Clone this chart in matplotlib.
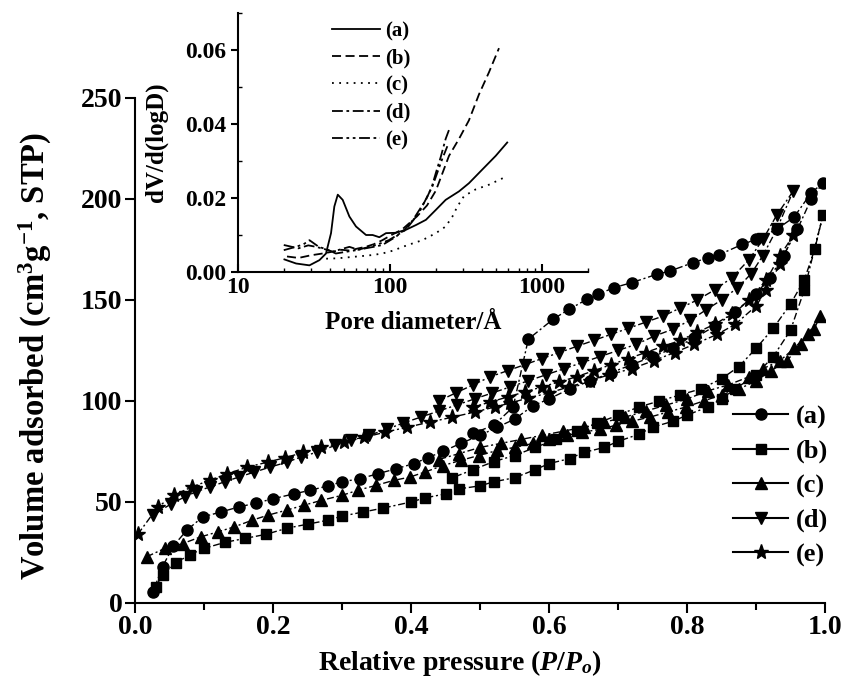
import matplotlib
matplotlib.use("Agg")
import matplotlib.pyplot as plt
from matplotlib.lines import Line2D
from matplotlib.ticker import MultipleLocator, LogLocator, NullFormatter, FixedLocator, FormatStrFormatter

plt.rcParams['font.family'] = 'Liberation Serif'
plt.rcParams['font.weight'] = 'bold'
plt.rcParams['mathtext.fontset'] = 'custom'
plt.rcParams['mathtext.rm'] = 'Liberation Serif:bold'
plt.rcParams['mathtext.it'] = 'Liberation Serif:italic:bold'
plt.rcParams['mathtext.bf'] = 'Liberation Serif:bold'

# Isotherms: adsorption branch followed by desorption branch
p_a = [0.026, 0.04, 0.055, 0.075, 0.098, 0.124, 0.15, 0.176, 0.2, 0.23, 0.254, 0.28, 0.3, 0.326, 0.352,
       0.378, 0.404, 0.425, 0.446, 0.472, 0.5, 0.525, 0.55, 0.577, 0.6, 0.63, 0.66, 0.69, 0.72, 0.75,
       0.78, 0.81, 0.84, 0.87, 0.9, 0.92, 0.94, 0.96, 0.98, 0.997,
       0.98, 0.955, 0.93, 0.9, 0.88, 0.847, 0.831, 0.808, 0.775, 0.756, 0.72, 0.694, 0.671, 0.655,
       0.629, 0.606, 0.57, 0.548, 0.52, 0.49]
v_a = [5.6, 18, 28, 36, 42.6, 45, 47.5, 49.5, 51.6, 54, 55.8, 58, 60, 61.5, 64,
       66.4, 69, 72, 75, 79, 83, 87, 91, 97.7, 101, 106, 110, 114, 118, 122,
       126, 131, 137, 144, 153, 161, 172, 185, 200, 208,
       203, 191, 185, 180, 177.5, 172.5, 171, 168.4, 164.3, 162.7, 158.6, 156.1, 152.8, 150.3,
       145.4, 140.5, 130.6, 97, 88, 84]

p_b = [0.03, 0.04, 0.06, 0.08, 0.1, 0.13, 0.16, 0.19, 0.22, 0.25, 0.28, 0.3, 0.33, 0.36, 0.4, 0.42,
       0.45, 0.47, 0.5, 0.52, 0.55, 0.58, 0.6, 0.63, 0.65, 0.68, 0.7, 0.73, 0.75, 0.78, 0.8, 0.83,
       0.85, 0.87, 0.9, 0.925, 0.95, 0.97, 0.997,
       0.985, 0.97, 0.95, 0.925, 0.9, 0.875, 0.85, 0.82, 0.79, 0.76, 0.73, 0.7, 0.67, 0.64, 0.61,
       0.58, 0.55, 0.52, 0.49, 0.46]
v_b = [8, 14, 20, 24, 27, 30, 32, 34, 37, 39, 41, 43, 45, 47, 50, 52,
       54, 56.5, 58, 60, 62, 66, 69, 71.5, 74.5, 77, 80, 83.5, 87, 90, 93, 97,
       101, 106, 113, 122, 135, 155, 192,
       175, 160, 148, 136, 126, 117, 111, 106, 103, 100, 97, 93, 89, 85, 81,
       77, 73, 70, 66, 62]

p_c = [0.017, 0.043, 0.069, 0.095, 0.12, 0.144, 0.17, 0.192, 0.22, 0.245, 0.27, 0.3, 0.323, 0.349,
       0.375, 0.398, 0.42, 0.446, 0.472, 0.498, 0.525, 0.55, 0.577, 0.6, 0.626, 0.648, 0.674, 0.697,
       0.72, 0.746, 0.772, 0.798, 0.824, 0.85, 0.876, 0.9, 0.922, 0.945, 0.965, 0.984, 0.993,
       0.975, 0.955, 0.935, 0.91, 0.89, 0.86, 0.83, 0.8, 0.77, 0.74, 0.71, 0.68, 0.65, 0.62, 0.59,
       0.56, 0.53, 0.5, 0.47, 0.44]
v_c = [22.9, 27, 29.4, 32.7, 35.2, 37.7, 41, 43.4, 46, 48.4, 50.8, 53.3, 55.8, 58.2,
       60.7, 62.3, 64.8, 68, 70.6, 73, 75.5, 77, 79, 81, 83, 84.5, 86, 88,
       90, 92, 94.5, 97, 100, 103, 106, 110, 115, 120, 128, 135.5, 142,
       133, 126, 120, 116, 112, 108, 105, 101, 98, 95, 92, 89.5, 87, 85, 83,
       81, 79, 77, 74, 71]

p_d = [0.026, 0.052, 0.072, 0.088, 0.108, 0.13, 0.15, 0.173, 0.196, 0.22, 0.24, 0.264, 0.29, 0.313,
       0.339, 0.365, 0.388, 0.414, 0.44, 0.466, 0.492, 0.518, 0.544, 0.57, 0.596, 0.622, 0.648, 0.674,
       0.7, 0.726, 0.752, 0.779, 0.805, 0.827, 0.85, 0.873, 0.893, 0.91, 0.93, 0.954,
       0.93, 0.91, 0.89, 0.865, 0.84, 0.815, 0.79, 0.765, 0.74, 0.715, 0.69, 0.665, 0.64, 0.615,
       0.59, 0.565, 0.54, 0.515, 0.49, 0.465, 0.44]
v_d = [43.4, 49, 52.5, 55, 57.4, 60, 62.3, 64.8, 67.3, 69.7, 72.2, 74.7, 78, 80.5,
       83, 86, 89, 92, 95, 98, 101, 104, 107, 110, 113, 116, 119, 122,
       125, 128, 132, 135.5, 140, 145, 150, 156, 163, 172, 185, 204,
       192, 180, 170, 161, 155, 150, 146, 142, 139, 136, 133, 130, 127, 124,
       121, 118, 115, 112, 108, 104, 100]

p_e = [0.004, 0.033, 0.056, 0.082, 0.108, 0.134, 0.163, 0.192, 0.218, 0.244, 0.27, 0.303, 0.332,
       0.362, 0.394, 0.427, 0.46, 0.492, 0.521, 0.544, 0.57, 0.6, 0.629, 0.66, 0.687, 0.72, 0.752,
       0.782, 0.81, 0.844, 0.87, 0.9, 0.915, 0.935, 0.954,
       0.935, 0.915, 0.89, 0.865, 0.84, 0.815, 0.79, 0.765, 0.74, 0.715, 0.69, 0.665, 0.64, 0.615,
       0.59, 0.565, 0.54, 0.515, 0.49]
v_e = [34, 47.5, 53.3, 57.4, 60.7, 64, 67.3, 69.7, 72, 74.5, 77, 79.5, 82,
       84.5, 87, 89.5, 92, 94.5, 97, 99, 101.5, 104, 107, 110, 113, 116, 120,
       124, 128, 133, 138, 147, 155, 168, 182,
       172, 160, 150, 143, 138, 134, 130, 127, 124, 121, 118, 115, 112, 109.5,
       107, 104.5, 102, 99.5, 97]

# Pore size distributions (inset)
d_a = [20.2, 24.1, 29.5, 34.3, 37.9, 40.9, 43, 45.3, 48.8, 54, 59.7, 69.5, 76.8, 85, 94, 109, 127,
       148, 172, 200, 232, 284, 330, 404, 495, 589]
y_a = [0.0034, 0.0023, 0.0018, 0.0032, 0.005, 0.0105, 0.0177, 0.0209, 0.0195, 0.015, 0.0123, 0.01,
       0.01, 0.0094, 0.0105, 0.0106, 0.0114, 0.0127, 0.0141, 0.0168, 0.0195, 0.0218, 0.024, 0.0277,
       0.0314, 0.035]
d_b = [21, 25, 30, 36, 42, 48, 54, 62, 69, 78, 89, 100, 120, 150, 175, 200, 244, 284, 330, 384, 447, 520]
y_b = [0.0042, 0.0038, 0.0045, 0.005, 0.0055, 0.006, 0.0058, 0.0064, 0.0068, 0.0075, 0.0086, 0.0098,
       0.0115, 0.015, 0.018, 0.022, 0.0314, 0.036, 0.041, 0.048, 0.054, 0.0605]
d_c = [38, 45, 54, 65, 77, 89, 105, 121, 140, 163, 200, 232, 257, 277, 306, 364, 447, 560]
y_c = [0.0036, 0.0037, 0.004, 0.0043, 0.0046, 0.005, 0.0058, 0.0068, 0.0077, 0.0086, 0.0105, 0.0123,
       0.015, 0.0177, 0.0205, 0.0223, 0.0236, 0.0255]
d_d = [20, 25, 29, 32.6, 37, 42, 48, 54, 62, 69, 78, 89, 109, 125, 141, 157, 172, 188, 200, 215, 232, 245]
y_d = [0.0073, 0.0064, 0.0072, 0.0068, 0.0062, 0.0055, 0.0062, 0.0068, 0.006, 0.0064, 0.0068, 0.0073,
       0.0095, 0.0115, 0.014, 0.017, 0.0195, 0.023, 0.0268, 0.031, 0.036, 0.0386]
d_e = [20, 24, 27, 29.5, 34, 39, 44, 52, 60, 70, 81, 98, 127, 155, 190, 220, 238]
y_e = [0.0059, 0.0068, 0.0075, 0.0086, 0.0068, 0.006, 0.005, 0.0055, 0.0059, 0.0066, 0.0073, 0.0086,
       0.0114, 0.016, 0.0232, 0.0305, 0.034]

labels = ['(a)', '(b)', '(c)', '(d)', '(e)']
markers = ['o', 's', '^', 'v', '*']
marker_sizes = [8, 7.5, 9, 9, 11]

fig = plt.figure(figsize=(8.46, 6.93), dpi=100)

# main isotherm plot
ax = fig.add_axes([0.1596, 0.1299, 0.8156, 0.7287])
iso_p = [p_a, p_b, p_c, p_d, p_e]
iso_v = [v_a, v_b, v_c, v_d, v_e]
for i in range(5):
    ax.plot(iso_p[i], iso_v[i], color='k', lw=1, ls=(0, (5, 2, 1.5, 2)),
            marker=markers[i], ms=marker_sizes[i], mfc='k', mec='k')

ax.set_xlim(0, 1.0)
ax.set_ylim(0, 250)
ax.xaxis.set_major_locator(MultipleLocator(0.2))
ax.xaxis.set_minor_locator(MultipleLocator(0.1))
ax.xaxis.set_major_formatter(FormatStrFormatter('%.1f'))
ax.yaxis.set_major_locator(MultipleLocator(50))
ax.spines['top'].set_visible(False)
ax.spines['right'].set_visible(False)
ax.spines['left'].set_linewidth(1.5)
ax.spines['bottom'].set_linewidth(1.5)
ax.tick_params(which='major', direction='out', length=7, width=1.5, labelsize=20, pad=2)
ax.tick_params(which='minor', direction='out', length=5, width=1.5)
ax.set_xlabel('Relative pressure ($P/P_{o}$)', fontsize=20, fontweight='bold')
ax.set_ylabel('Volume adsorbed (cm$^{3}$g$^{-1}$, STP)', fontsize=23.5, fontweight='bold')
ax.xaxis.set_label_coords(0.471, -0.09)
ax.yaxis.set_label_coords(-0.118, 0.49)

handles = []
for i in range(5):
    handles.append(Line2D([], [], color='k', lw=1.5, marker=markers[i], ms=marker_sizes[i]))
fig.legend(handles, labels, loc='upper left', bbox_to_anchor=(0.8664, 0.4156), frameon=False,
           fontsize=19, handlelength=2.1, handletextpad=0.3, labelspacing=0.4,
           borderpad=0, borderaxespad=0)

# inset: pore size distribution
ins = fig.add_axes([0.2813, 0.6075, 0.4137, 0.3737])
styles = ['-', (0, (5, 2.5)), (0, (1, 3)), (0, (6, 2, 1.5, 2)), (0, (6, 2, 1.5, 2, 1.5, 2))]
pd_x = [d_a, d_b, d_c, d_d, d_e]
pd_y = [y_a, y_b, y_c, y_d, y_e]
for i in range(5):
    ins.plot(pd_x[i], pd_y[i], color='k', lw=1.3, ls=styles[i], label=labels[i])

ins.set_xscale('log')
ins.set_xlim(10, 2000)
ins.set_ylim(0, 0.07)
ins.xaxis.set_major_locator(FixedLocator([10, 100, 1000]))
ins.xaxis.set_major_formatter(FormatStrFormatter('%d'))
ins.xaxis.set_minor_locator(LogLocator(base=10, subs=range(2, 10)))
ins.xaxis.set_minor_formatter(NullFormatter())
ins.yaxis.set_major_locator(MultipleLocator(0.02))
ins.yaxis.set_minor_locator(MultipleLocator(0.01))
ins.yaxis.set_major_formatter(FormatStrFormatter('%.2f'))
ins.spines['top'].set_visible(False)
ins.spines['right'].set_visible(False)
ins.spines['left'].set_linewidth(1.5)
ins.spines['bottom'].set_linewidth(1.5)
ins.tick_params(axis='x', which='major', direction='in', length=6, width=1.5, labelsize=17)
ins.tick_params(axis='x', which='minor', direction='in', length=3, width=1)
ins.tick_params(axis='y', which='major', direction='out', length=5, width=1.5, labelsize=17)
ins.tick_params(axis='y', which='minor', direction='in', length=3, width=1)
ins.set_xlabel('Pore diameter/\u00c5', fontsize=18, fontweight='bold')
ins.set_ylabel('dV/d(logD)', fontsize=18, fontweight='bold')
ins.xaxis.set_label_coords(0.5, -0.15)
ins.yaxis.set_label_coords(-0.2, 0.5)
ins.legend(loc='upper left', bbox_to_anchor=(0.3924, 0.9697), bbox_transform=fig.transFigure,
           frameon=False, fontsize=15, handlelength=2.3, handletextpad=0.25, labelspacing=0.35,
           borderpad=0, borderaxespad=0)

fig.savefig('out.png', dpi=100)
